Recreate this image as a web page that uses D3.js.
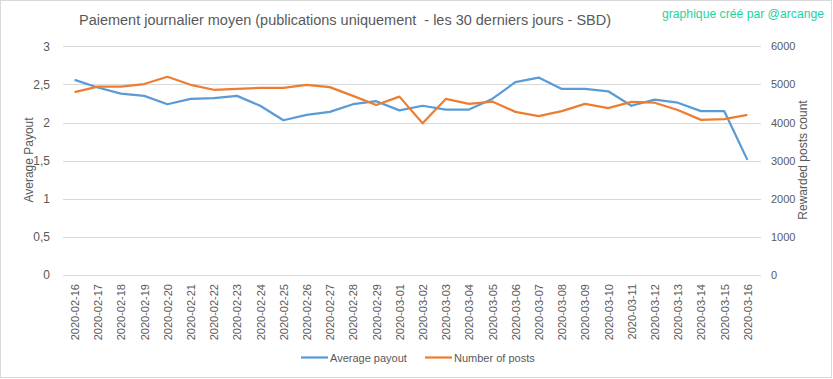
<!DOCTYPE html>
<html><head><meta charset="utf-8">
<script src="https://cdn.jsdelivr.net/npm/d3@7"></script>
<style>body{margin:0;background:#fff}svg{display:block}</style>
</head><body><svg id="c" width="833" height="379"></svg>
<script>
const dates = ["2020-02-16","2020-02-17","2020-02-18","2020-02-19","2020-02-20","2020-02-21","2020-02-22","2020-02-23","2020-02-24","2020-02-25","2020-02-26","2020-02-27","2020-02-28","2020-02-29","2020-03-01","2020-03-02","2020-03-03","2020-03-04","2020-03-05","2020-03-06","2020-03-07","2020-03-08","2020-03-09","2020-03-10","2020-03-11","2020-03-12","2020-03-13","2020-03-14","2020-03-15","2020-03-16"];
const avgPayout = [2.56,2.46,2.38,2.35,2.24,2.31,2.32,2.35,2.22,2.03,2.10,2.14,2.24,2.28,2.16,2.22,2.17,2.17,2.31,2.53,2.59,2.44,2.44,2.41,2.22,2.30,2.26,2.15,2.15,1.51];
const postCount = [4800,4940,4940,5010,5200,4990,4860,4880,4910,4910,4990,4930,4700,4460,4680,3980,4620,4490,4550,4280,4170,4300,4490,4380,4540,4520,4330,4070,4090,4200];
const leftTicks = [0,0.5,1,1.5,2,2.5,3];
const rightTicks = [0,1000,2000,3000,4000,5000,6000];
const seriesNames = ["Average payout","Number of posts"];
const colors = ["#5b9bd5","#ed7d31"];

const svg = d3.select("#c");
const font = "'Liberation Sans', Arial, sans-serif";
const grey = "#595959";
svg.append("rect").attr("x",0.5).attr("y",0.5).attr("width",831).attr("height",377)
  .attr("fill","#fff").attr("stroke","#d9d9d9");

const L=63, R=759, T=46.3, B=275;
const x = d3.scalePoint().domain(dates).range([L,R]).padding(0.5);
const yL = d3.scaleLinear().domain([0,3]).range([B,T]);
const yR = d3.scaleLinear().domain([0,6000]).range([B,T]);

// gridlines
svg.append("g").selectAll("line").data(leftTicks).join("line")
  .attr("x1",L).attr("x2",R+2).attr("y1",d=>Math.round(yL(d))+0.5).attr("y2",d=>Math.round(yL(d))+0.5)
  .attr("stroke","#d9d9d9").attr("stroke-width",1);

// left axis
const fmt = d=>String(d).replace(".",",");
const ga = svg.append("g").attr("transform",`translate(${L-10},0)`)
  .call(d3.axisLeft(yL).tickValues(leftTicks).tickFormat(fmt).tickSize(0));
ga.select(".domain").remove();
ga.selectAll("text").attr("font-family",font).attr("font-size",12).attr("fill",grey);

const gr = svg.append("g").attr("transform",`translate(${R+12},0)`)
  .call(d3.axisRight(yR).tickValues(rightTicks).tickFormat(d=>String(d)).tickSize(0));
gr.select(".domain").remove();
gr.selectAll("text").attr("font-family",font).attr("font-size",11).attr("fill",grey).attr("x",0);

// x axis
const gx = svg.append("g").attr("transform",`translate(0,${B})`)
  .call(d3.axisBottom(x).tickSize(0));
gx.select(".domain").remove();
gx.selectAll("text").attr("font-family",font).attr("font-size",11).attr("fill",grey)
  .attr("text-anchor","end").attr("transform","rotate(-90)").attr("x",-9).attr("y",0).attr("dy","0.35em");

// lines
const lineL = d3.line().x((d,i)=>x(dates[i])).y(d=>yL(d));
const lineR = d3.line().x((d,i)=>x(dates[i])).y(d=>yR(d));
svg.append("path").datum(avgPayout).attr("d",lineL).attr("fill","none").attr("stroke",colors[0]).attr("stroke-width",2.25).attr("stroke-linejoin","round");
svg.append("path").datum(postCount).attr("d",lineR).attr("fill","none").attr("stroke",colors[1]).attr("stroke-width",2.25).attr("stroke-linejoin","round");

// titles
svg.append("text").attr("x",345).attr("y",25).attr("text-anchor","middle").attr("font-family",font)
  .style("white-space","pre")
  .attr("font-size",14).attr("fill",grey).text("Paiement journalier moyen (publications uniquement  - les 30 derniers jours - SBD)")
  .attr("textLength",532).attr("lengthAdjust","spacingAndGlyphs");
svg.append("text").attr("x",824).attr("y",18).attr("text-anchor","end").attr("font-family",font)
  .attr("font-size",12).attr("fill","#1dd3a0").text("graphique créé par @arcange")
  .attr("textLength",162).attr("lengthAdjust","spacingAndGlyphs");
svg.append("text").attr("transform","translate(33,160) rotate(-90)").attr("text-anchor","middle")
  .attr("font-family",font).attr("font-size",12).attr("fill",grey).text("Average Payout");
svg.append("text").attr("transform","translate(807,160) rotate(-90)").attr("text-anchor","middle")
  .attr("font-family",font).attr("font-size",12).attr("fill",grey).text("Rewarded posts count");

// legend
const lg = svg.append("g");
const lx = [301,425];
seriesNames.forEach((n,i)=>{
  lg.append("line").attr("x1",lx[i]).attr("x2",lx[i]+27).attr("y1",357.5).attr("y2",357.5).attr("stroke",colors[i]).attr("stroke-width",2.25);
  lg.append("text").attr("x",lx[i]+29).attr("y",361.5).attr("font-family",font).attr("font-size",11).attr("fill",grey).text(n);
});
</script></body></html>
